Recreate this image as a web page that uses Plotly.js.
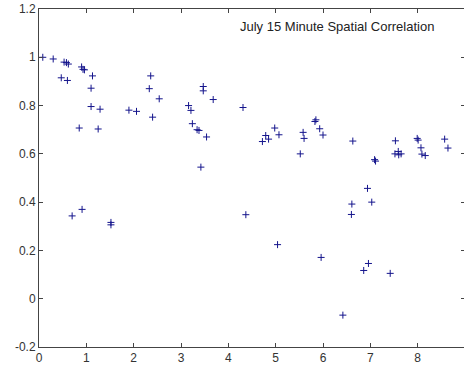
<!DOCTYPE html>
<html>
<head>
<meta charset="utf-8">
<script src="https://cdn.plot.ly/plotly-3.0.1.min.js"></script>
<style>
html,body{margin:0;padding:0;overflow:hidden;background:#fff;}
#chart{width:466px;height:366px;}
</style>
</head>
<body>
<div id="chart"></div>
<script>
// Distance (x) vs correlation (y)
const distance = [
  0.08, 0.30, 0.53, 0.58, 0.62, 0.90, 0.93, 0.96, 1.13, 0.47,
  0.60, 1.10, 1.10, 1.29, 0.85, 1.25, 1.90, 2.06, 2.36, 2.33,
  2.54, 2.40, 3.16, 3.21, 3.24, 3.34, 3.38, 3.54, 3.47, 3.47,
  3.68, 3.42, 4.31, 4.37, 0.70, 0.91, 1.52, 1.52, 5.04, 4.98,
  4.79, 4.85, 4.72, 5.07, 5.58, 5.60, 5.52, 5.83, 5.85, 5.93,
  6.00, 6.63, 7.09, 7.11, 7.53, 7.99, 8.01, 8.07, 8.09, 8.16,
  7.52, 7.59, 7.60, 7.65, 8.57, 8.64, 6.94, 7.03, 6.61, 6.60,
  5.96, 6.96, 6.86, 7.42, 6.42
];
const correlation = [
  1.000, 0.993, 0.980, 0.978, 0.972, 0.960, 0.950, 0.948, 0.923, 0.915,
  0.904, 0.872, 0.796, 0.785, 0.707, 0.703, 0.781, 0.776, 0.923, 0.870,
  0.828, 0.752, 0.800, 0.780, 0.725, 0.700, 0.697, 0.670, 0.879, 0.861,
  0.825, 0.545, 0.792, 0.348, 0.343, 0.370, 0.316, 0.306, 0.224, 0.707,
  0.676, 0.661, 0.651, 0.679, 0.689, 0.664, 0.600, 0.734, 0.741, 0.704,
  0.678, 0.653, 0.576, 0.570, 0.654, 0.664, 0.657, 0.625, 0.599, 0.593,
  0.600, 0.610, 0.596, 0.600, 0.661, 0.624, 0.457, 0.400, 0.392, 0.349,
  0.171, 0.146, 0.117, 0.105, -0.068
];
const xTicks = [0, 1, 2, 3, 4, 5, 6, 7, 8];
const yTicks = [-0.2, 0, 0.2, 0.4, 0.6, 0.8, 1, 1.2];
const yTickText = ['-0.2', '0', '0.2', '0.4', '0.6', '0.8', '1', '1.2'];
const chartTitle = 'July 15 Minute Spatial Correlation';

const trace = {
  x: distance,
  y: correlation,
  type: 'scatter',
  mode: 'markers',
  marker: {symbol: 'cross-thin-open', size: 5, color: '#14148c', line: {width: 1, color: '#14148c'}},
  hoverinfo: 'x+y'
};

const axisCommon = {
  showgrid: false,
  zeroline: false,
  showline: true,
  linecolor: '#444',
  linewidth: 1,
  mirror: 'ticks',
  ticks: 'inside',
  ticklen: 4,
  tickcolor: '#444',
  tickfont: {family: 'Liberation Sans, Arial, sans-serif', size: 12, color: '#333'}
};

const layout = {
  width: 466,
  height: 366,
  margin: {l: 39, r: 1, t: 9, b: 19},
  paper_bgcolor: '#fff',
  plot_bgcolor: '#fff',
  showlegend: false,
  xaxis: Object.assign({}, axisCommon, {range: [0, 9], tickvals: xTicks}),
  yaxis: Object.assign({}, axisCommon, {range: [-0.2, 1.2], tickvals: yTicks, ticktext: yTickText}),
  annotations: [{
    text: chartTitle,
    xref: 'paper', yref: 'paper',
    x: 0.932, y: 0.947,
    xanchor: 'right', yanchor: 'middle',
    showarrow: false,
    font: {family: 'Liberation Sans, Arial, sans-serif', size: 13, color: '#222'}
  }]
};

Plotly.newPlot('chart', [trace], layout, {displayModeBar: false, staticPlot: true});
</script>
</body>
</html>
